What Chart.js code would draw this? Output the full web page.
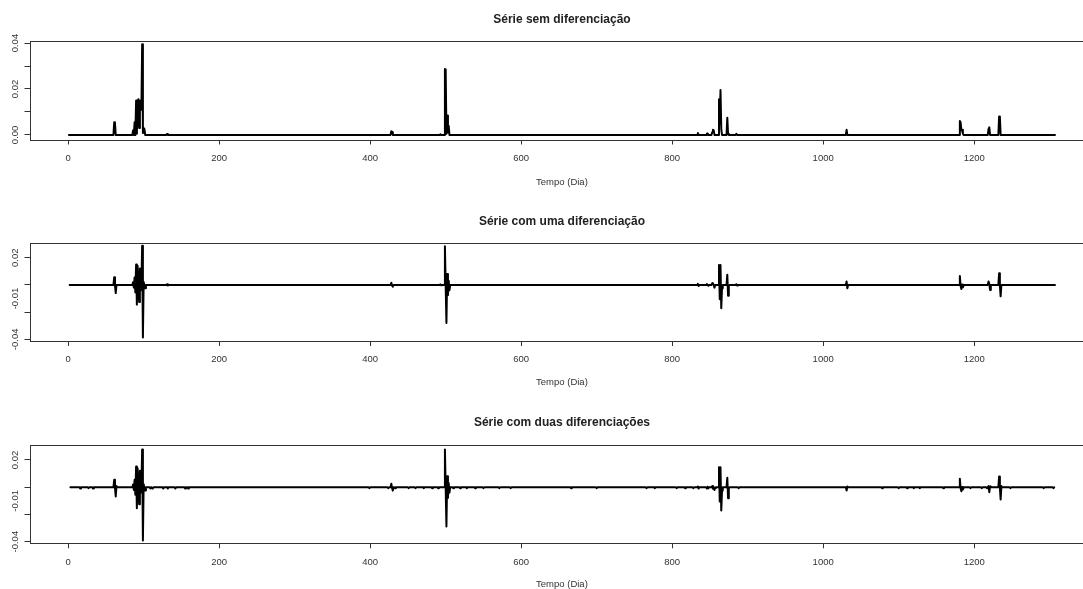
<!DOCTYPE html>
<html>
<head>
<meta charset="utf-8">
<script src="https://cdn.jsdelivr.net/npm/chart.js@4.4.1/dist/chart.umd.min.js"></script>
<style>
  html, body { margin: 0; padding: 0; background: #fff; }
  body { width: 1083px; height: 589px; overflow: hidden; position: relative; }
  canvas { position: absolute; left: 0; }
</style>
</head>
<body>
<canvas id="p1" width="1100" height="200" style="top:0"></canvas>
<canvas id="p2" width="1100" height="200" style="top:200px"></canvas>
<canvas id="p3" width="1100" height="200" style="top:400px"></canvas>
<script>
// Tick values and labels (R style: only every other / third tick labelled)
const xTicks = [0, 200, 400, 600, 800, 1000, 1200];
const yTicksLevel = [0, 0.01, 0.02, 0.03, 0.04];
const yLabelsLevel = ['0.00', '0.02', '0.04'];
const yTicksDiff = [-0.04, -0.03, -0.02, -0.01, 0, 0.01, 0.02];
const yLabelsDiff = ['0.02', '-0.01', '-0.04'];

// Série sem diferenciação (days where the series leaves zero, with zero anchors)
const daysLevel = [1, 60, 61, 62, 63, 85, 86, 87, 88, 89, 90, 91, 92, 93, 94, 95, 96, 97, 98, 99, 100, 101, 102,
  130, 131, 132, 427, 428, 429, 430, 492, 493, 494, 498, 499, 500, 501, 502, 503, 504, 505,
  833, 834, 835, 845, 846, 847, 848, 852, 853, 854, 855, 856, 861, 862, 863, 864, 865, 866,
  872, 873, 874, 875, 884, 885, 886, 1030, 1031, 1032, 1180, 1181, 1182, 1183, 1184, 1185, 1186,
  1218, 1219, 1220, 1221, 1232, 1233, 1234, 1235, 1307];
const valsLevel = [0, 0, 0.0055, 0.005, 0, 0, 0.002, 0, 0.0055, 0, 0.015, 0.0005, 0.0145, 0.0155, 0.003, 0.015, 0.011, 0.011, 0.0395, 0.0008, 0.003, 0.0025, 0,
  0, 0.0004, 0, 0, 0.0016, 0.0012, 0, 0, 0.0003, 0, 0, 0.0287, 0.0285, 0.0005, 0.0085, 0.001, 0.004, 0,
  0, 0.0008, 0, 0, 0.0006, 0.0006, 0, 0, 0.0012, 0.0022, 0.002, 0, 0, 0.0155, 0.005, 0.0196, 0.0025, 0,
  0, 0.0075, 0.0005, 0, 0, 0.0005, 0, 0, 0.0022, 0, 0, 0.0061, 0.0055, 0.002, 0.0022, 0.0005, 0,
  0, 0.0025, 0.0033, 0, 0, 0.008, 0.0078, 0, 0];

// Série com uma diferenciação
const daysDiff1 = [2, 60, 61, 62, 63, 64, 85, 86, 87, 88, 89, 90, 91, 92, 93, 94, 95, 96, 97, 98, 99, 100, 101, 102, 103,
  130, 131, 132, 133, 427, 428, 429, 430, 431, 492, 493, 494, 495, 498, 499, 500, 501, 502, 503, 504, 505, 506,
  833, 834, 835, 836, 845, 846, 847, 848, 849, 852, 853, 854, 855, 856, 857, 861, 862, 863, 864, 865, 866, 867,
  872, 873, 874, 875, 876, 884, 885, 886, 887, 1030, 1031, 1032, 1033,
  1180, 1181, 1182, 1183, 1184, 1185, 1186, 1187, 1218, 1219, 1220, 1221, 1222, 1232, 1233, 1234, 1235, 1236, 1307];
const valsDiff1 = [0, 0, 0.0057, -0.0003, -0.006, 0, 0, 0.002, -0.002, 0.0055, -0.0055, 0.015, -0.0145, 0.014, 0.001, -0.0125, 0.012, -0.004, 0, 0.0287, -0.0387, 0.0022, -0.0005, -0.0025, 0,
  0, 0.0004, -0.0004, 0, 0, 0.0016, -0.0005, -0.0013, 0, 0, 0.0003, -0.0003, 0, 0, 0.0284, -0.0002, -0.028, 0.008, -0.0075, 0.003, -0.004, 0,
  0, 0.0008, -0.0008, 0, 0, 0.0006, 0, -0.0006, 0, 0, 0.0012, 0.001, -0.0002, -0.002, 0, 0, 0.0147, -0.0105, 0.0146, -0.0171, -0.0025, 0,
  0, 0.0075, -0.0079, -0.0005, 0, 0, 0.0005, -0.0005, 0, 0, 0.0025, -0.0025, 0,
  0, 0.0066, -0.0008, -0.003, 0.0002, -0.0017, -0.0005, 0, 0, 0.0025, 0.0008, -0.0037, 0, 0, 0.0086, -0.0002, -0.0084, 0, 0];

// Série com duas diferenciações
const daysDiff2 = [3, 15, 16, 17, 26, 27, 28, 32, 33, 34, 60, 61, 62, 63, 64, 65,
  85, 86, 87, 88, 89, 90, 91, 92, 93, 94, 95, 96, 97, 98, 99, 100, 101, 102, 103,
  108, 109, 110, 111, 112, 113, 125, 126, 127, 131, 132, 133, 141, 142, 143, 154, 155, 156, 158, 159, 160,
  398, 399, 400, 423, 424, 425, 427, 428, 429, 430, 431, 432, 433, 434, 450, 451, 452, 459, 460, 461,
  470, 471, 472, 481, 482, 483, 489, 490, 491, 498, 499, 500, 501, 502, 503, 504, 505, 506,
  509, 510, 511, 518, 519, 520, 527, 528, 529, 538, 539, 540, 549, 550, 551, 570, 571, 572, 585, 586, 587,
  665, 666, 667, 699, 700, 701, 765, 766, 767, 776, 777, 778, 805, 806, 807, 816, 817, 818, 827, 828, 829,
  833, 834, 835, 836, 845, 846, 847, 848, 849, 852, 853, 854, 855, 856, 857, 858,
  861, 862, 863, 864, 865, 866, 867, 872, 873, 874, 875, 876, 887, 888, 889,
  1030, 1031, 1032, 1033, 1077, 1078, 1079, 1099, 1100, 1101, 1110, 1111, 1112, 1119, 1120, 1121, 1127, 1128, 1129,
  1158, 1159, 1160, 1180, 1181, 1182, 1183, 1184, 1185, 1186, 1187, 1194, 1195, 1196, 1209, 1210, 1211,
  1216, 1217, 1218, 1219, 1220, 1221, 1222, 1232, 1233, 1234, 1235, 1236, 1237,
  1247, 1248, 1249, 1291, 1292, 1293, 1304, 1305, 1306, 1307];
const valsDiff2 = [0, 0, -0.001, 0, 0, -0.0008, 0, 0, -0.001, 0, 0, 0.0054, -0.0004, -0.0068, 0.0008, 0,
  0, 0.002, -0.002, 0.0055, -0.0055, 0.0152, -0.0154, 0.014, 0.001, -0.0125, 0.012, -0.004, 0, 0.0277, -0.0392, 0.0022, -0.0005, -0.0025, 0,
  0, -0.001, 0, 0, -0.001, 0, 0, -0.001, 0, 0, -0.001, 0, 0, -0.001, 0, 0, -0.001, 0, 0, -0.001, 0,
  0, -0.0008, 0, 0, -0.0008, 0, 0, 0.0025, -0.0005, -0.0025, 0, 0, -0.0008, 0, 0, -0.0008, 0, 0, -0.0008, 0,
  0, -0.0008, 0, 0, -0.0008, 0, 0, -0.0008, 0, 0, 0.0277, -0.0002, -0.0289, 0.008, -0.0078, 0.003, -0.004, 0,
  0, -0.0008, 0, 0, -0.0008, 0, 0, -0.0008, 0, 0, -0.0008, 0, 0, -0.0008, 0, 0, -0.0008, 0, 0, -0.0008, 0,
  0, -0.0008, 0, 0, -0.0008, 0, 0, -0.0008, 0, 0, -0.0008, 0, 0, -0.0008, 0, 0, -0.0008, 0, 0, -0.0008, 0,
  0, 0.0006, -0.001, 0, 0, -0.001, 0.0004, -0.0008, 0, 0, 0.0008, -0.0012, 0.0002, -0.002, -0.0005, 0,
  0, 0.0147, -0.0105, 0.0146, -0.0171, -0.0025, 0, 0, 0.0069, -0.0081, -0.0005, 0, 0, -0.0008, 0,
  0, -0.0024, 0.0005, 0, 0, -0.0008, 0, 0, -0.0008, 0, 0, -0.0008, 0, 0, -0.0008, 0, 0, -0.0008, 0,
  0, -0.0008, 0, 0, 0.0062, -0.0008, -0.003, 0.0002, -0.0017, -0.0005, 0, 0, -0.0008, 0, 0, -0.0008, 0,
  0, -0.0008, 0, 0.0008, -0.0037, 0.0005, 0, 0, 0.0079, -0.0002, -0.009, 0.0008, 0,
  0, -0.0008, 0, 0, -0.0008, 0, 0, -0.0008, 0, 0];

const FONT = "'Liberation Sans', Arial, sans-serif";
const INK = '#333333';

// Frame box + rotated y labels, the way R's plot() draws them
const rFrame = {
  id: 'rFrame',
  afterDraw(chart, args, opts) {
    const { ctx, chartArea: a } = chart;
    const y = chart.scales.y;
    ctx.save();
    ctx.strokeStyle = INK;
    ctx.lineWidth = 1;
    ctx.strokeRect(Math.round(a.left) + 0.5, Math.round(a.top) + 0.5,
      Math.round(a.right - a.left), Math.round(a.bottom - a.top));
    ctx.fillStyle = INK;
    ctx.font = '9.5px ' + FONT;
    ctx.textAlign = 'center';
    ctx.textBaseline = 'middle';
    opts.labels.forEach(lbl => {
      const py = y.getPixelForValue(parseFloat(lbl));
      ctx.save();
      ctx.translate(15, py);
      ctx.rotate(-Math.PI / 2);
      ctx.fillText(lbl, 0, 0);
      ctx.restore();
    });
    ctx.restore();
  }
};

function makePanel(id, title, days, vals, yTicks, yLabels, g) {
  const ctx = document.getElementById(id);
  return new Chart(ctx, {
    type: 'line',
    data: {
      datasets: [{
        data: days.map((d, i) => ({ x: d, y: vals[i] })),
        borderColor: '#000',
        borderWidth: 2,
        borderJoinStyle: 'round',
        borderCapStyle: 'round',
        pointRadius: 0,
        tension: 0,
        fill: false
      }]
    },
    plugins: [rFrame],
    options: {
      responsive: false,
      animation: false,
      events: [],
      layout: { padding: { left: 0, right: 5.6, top: 0, bottom: 0 } },
      plugins: {
        legend: { display: false },
        tooltip: { enabled: false },
        title: {
          display: true,
          text: title,
          fullSize: false,
          color: '#222',
          font: { family: FONT, size: 12, weight: 'bold' },
          padding: { top: g.titleTop, bottom: g.titleBottom }
        },
        rFrame: { labels: yLabels }
      },
      scales: {
        x: {
          type: 'linear',
          min: -51.2,
          max: 1359.2,
          afterBuildTicks: s => { s.ticks = xTicks.map(v => ({ value: v })); },
          afterFit: s => { s.height = g.xHeight; },
          grid: { drawOnChartArea: false, drawTicks: true, tickLength: 5, color: INK },
          border: { display: false },
          ticks: {
            autoSkip: false, maxRotation: 0, padding: g.tickPad,
            color: INK, font: { family: FONT, size: 9.5 },
            callback: v => String(v)
          },
          title: {
            display: true, text: 'Tempo (Dia)', color: INK,
            font: { family: FONT, size: 9.5 },
            padding: { top: 0, bottom: g.xTitlePad }
          }
        },
        y: {
          min: g.yMin,
          max: g.yMax,
          afterBuildTicks: s => { s.ticks = yTicks.map(v => ({ value: v })); },
          afterFit: s => { s.width = 29.5; },
          grid: { drawOnChartArea: false, drawTicks: true, tickLength: 5, color: INK },
          border: { display: false },
          ticks: { callback: () => '' }
        }
      }
    }
  });
}

makePanel('p1', 'Série sem diferenciação', daysLevel, valsLevel, yTicksLevel, yLabelsLevel,
  { titleTop: 12.1, titleBottom: 14.5, xHeight: 60.5, tickPad: 8, xTitlePad: 12.3, yMin: -0.002, yMax: 0.0409 });
makePanel('p2', 'Série com uma diferenciação', daysDiff1, valsDiff1, yTicksDiff, yLabelsDiff,
  { titleTop: 14.5, titleBottom: 14.1, xHeight: 59, tickPad: 7.5, xTitlePad: 11.6, yMin: -0.04125, yMax: 0.0308 });
makePanel('p3', 'Série com duas diferenciações', daysDiff2, valsDiff2, yTicksDiff, yLabelsDiff,
  { titleTop: 15.8, titleBottom: 14.8, xHeight: 56.7, tickPad: 8, xTitlePad: 10.3, yMin: -0.0412, yMax: 0.031 });
</script>
</body>
</html>
